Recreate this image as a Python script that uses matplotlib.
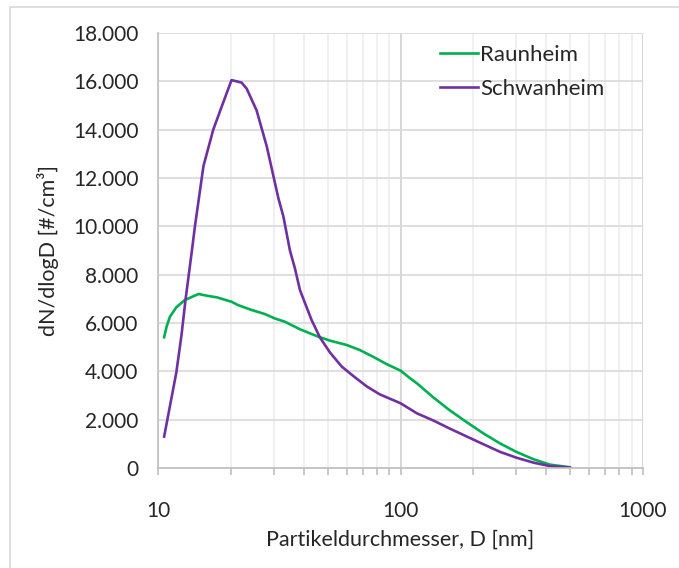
import numpy as np
import matplotlib
matplotlib.use('Agg')
import matplotlib.pyplot as plt
from matplotlib.ticker import FuncFormatter, LogLocator, FixedLocator, NullFormatter
from matplotlib.patches import Rectangle

plt.rcParams['font.family'] = ['Lato', 'DejaVu Sans']

# Raunheim (green)
d_raun = [10.6, 10.85, 11.2, 11.9, 12.9, 14.7, 16.1, 17.5, 18.6, 20.1, 21.4, 24.3,
          27.6, 30.3, 33.4, 38.5, 45.1, 51.2, 60, 68, 77.2, 87.6, 100, 109, 117,
          136.6, 159, 186, 219, 257, 300, 354, 413, 499]
n_raun = [5410, 5850, 6260, 6650, 6950, 7200, 7120, 7060, 6980, 6880, 6740, 6540,
          6370, 6190, 6050, 5740, 5460, 5270, 5090, 4880, 4600, 4300, 4030, 3730, 3500,
          2920, 2400, 1920, 1440, 1020, 670, 360, 140, 30]

# Schwanheim (purple)
d_schw = [10.6, 11.9, 12.5, 13.0, 13.8, 14.2, 15.4, 16.9, 18.3, 20.1, 22.1, 23.2,
          25.5, 28.1, 31.3, 32.9, 35.0, 36.7, 38.5, 43, 46.6, 51.2, 57.2, 64, 72.5,
          82, 100, 117, 137, 159, 186, 219, 257, 300, 354, 413, 499]
n_schw = [1300, 3950, 5500, 7000, 9000, 10000, 12500, 14000, 14950, 16050, 15950, 15700,
          14800, 13300, 11200, 10400, 9000, 8260, 7360, 6120, 5390, 4780, 4200, 3800, 3380,
          3050, 2680, 2260, 1960, 1640, 1320, 990, 670, 430, 220, 80, 20]

fig = plt.figure(figsize=(6.79, 5.68), dpi=100)
fig.patches.append(Rectangle((10 / 679, -0.1), 1.2, 1 - 7 / 568 + 0.1,
                             transform=fig.transFigure, fill=False,
                             edgecolor='#d9d9d9', linewidth=1.2))
ax = fig.add_axes([158 / 679, 1 - 468 / 568, 485 / 679, 435 / 568])

ax.plot(d_raun, n_raun, color='#00B050', lw=1.9, label='Raunheim')
ax.plot(d_schw, n_schw, color='#7030A0', lw=1.9, label='Schwanheim')

ax.set_xscale('log')
ax.set_xlim(10, 1000)
ax.set_ylim(0, 18000)
ax.set_yticks(np.arange(0, 18001, 2000))
ax.yaxis.set_major_formatter(FuncFormatter(lambda v, p: f'{int(v):,}'.replace(',', '.')))
ax.xaxis.set_major_locator(FixedLocator([10, 100, 1000]))
ax.xaxis.set_major_formatter(FuncFormatter(lambda v, p: f'{int(v)}'))
ax.xaxis.set_minor_locator(LogLocator(base=10, subs=np.arange(2, 10)))
ax.xaxis.set_minor_formatter(NullFormatter())

ax.grid(axis='y', which='major', color='#d9d9d9', lw=1.2)
ax.grid(axis='x', which='major', color='#d0d0d0', lw=1.2)
ax.grid(axis='x', which='minor', color='#eeeeee', lw=1.2)
ax.set_axisbelow(True)

for s in ['top', 'right']:
    ax.spines[s].set_visible(False)
for s in ['left', 'bottom']:
    ax.spines[s].set_color('#bfbfbf')
    ax.spines[s].set_linewidth(1.2)

ax.tick_params(axis='y', length=0, pad=14, labelsize=15, labelcolor='#262626')
ax.tick_params(axis='x', which='both', direction='out', length=5, color='#bfbfbf',
               width=1.2, pad=19, labelsize=15, labelcolor='#262626')

ax.set_xlabel('Partikeldurchmesser, D [nm]', fontsize=15.5, color='#262626', labelpad=6)
ax.set_ylabel('dN/dlogD [#/cm³]', fontsize=15.5, color='#262626', labelpad=10)

ax.legend(loc='upper left', bbox_to_anchor=(0.54, 1.018), frameon=False, fontsize=16,
          handlelength=1.7, handletextpad=0.1, labelspacing=0.6, labelcolor='#262626')

fig.savefig('out.png', dpi=100)
